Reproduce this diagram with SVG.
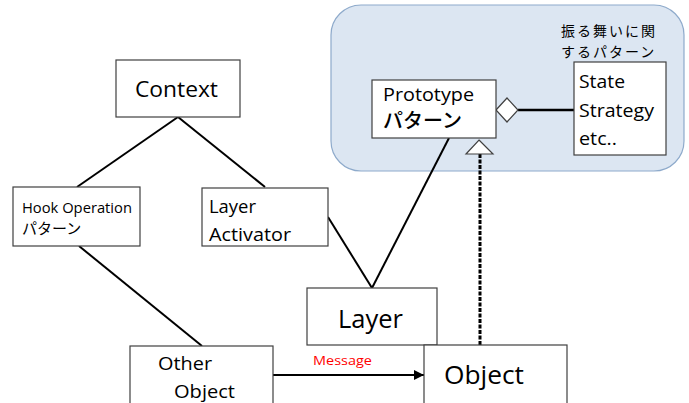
<svg xmlns="http://www.w3.org/2000/svg" width="689" height="403" viewBox="0 0 689 403">
  <style>
    .box { fill: #ffffff; stroke: #404040; stroke-width: 1.2; }
    .lbl { font-family: "Open Sans", "Noto Sans CJK JP", sans-serif; fill: #000000; }
    .jp { font-family: "Noto Sans CJK JP", sans-serif; fill: #000000; }
    .link { stroke: #000000; stroke-width: 2; fill: none; }
  </style>
  <defs>
    <marker id="arrow" viewBox="0 0 10 10" refX="10" refY="5" markerWidth="5" markerHeight="5" orient="auto" markerUnits="strokeWidth">
      <path d="M0,0 L10,5 L0,10 z" fill="#000000"/>
    </marker>
  </defs>

  <!-- Behavioural pattern group -->
  <g id="behaviour-group">
    <rect x="331" y="5" width="353" height="166" rx="30" ry="30" fill="#dce6f2" stroke="#8eaacb" stroke-width="1.2"/>
    <text class="jp" x="561" y="35.5" font-size="14" letter-spacing="2">振る舞いに関</text>
    <text class="jp" x="561" y="56.5" font-size="14" letter-spacing="2">するパターン</text>
  </g>

  <!-- Connectors -->
  <g id="connectors">
    <line class="link" x1="178" y1="117" x2="77" y2="187"/>
    <line class="link" x1="178" y1="117" x2="265" y2="187"/>
    <line class="link" x1="79" y1="246" x2="202" y2="346"/>
    <line class="link" x1="328" y1="217" x2="372" y2="288"/>
    <line class="link" x1="449" y1="138" x2="372" y2="288"/>
    <line x1="518" y1="110" x2="574" y2="110" stroke="#000000" stroke-width="2.5"/>
    <polygon points="496,110 507,98 518,110 507,122" fill="#ffffff" stroke="#404040" stroke-width="1.2"/>
    <line x1="480" y1="154" x2="480" y2="345" stroke="#000000" stroke-width="3" stroke-dasharray="4,1.5"/>
    <polygon points="479,140 493,154 466,154" fill="#ffffff" stroke="#404040" stroke-width="1.2"/>
    <line class="link" x1="273" y1="375" x2="424" y2="375" marker-end="url(#arrow)"/>
    <text x="313" y="365" font-family="Open Sans, sans-serif" font-size="13.5" fill="#ff0000" textLength="59" lengthAdjust="spacingAndGlyphs">Message</text>
  </g>

  <g id="context">
    <rect class="box" x="116" y="60" width="124" height="57" stroke="#7f7f7f"/>
    <text class="lbl" x="135" y="97" font-size="22" textLength="83" lengthAdjust="spacingAndGlyphs">Context</text>
  </g>

  <g id="hook-operation">
    <rect class="box" x="13" y="187" width="127" height="59"/>
    <text class="lbl" x="22" y="213" font-size="14" textLength="110" lengthAdjust="spacingAndGlyphs">Hook Operation</text>
    <text class="jp" x="22" y="234" font-size="15">パターン</text>
  </g>

  <g id="layer-activator">
    <rect class="box" x="202" y="188" width="126" height="58"/>
    <text class="lbl" x="209" y="213" font-size="18.5" textLength="47" lengthAdjust="spacingAndGlyphs">Layer</text>
    <text class="lbl" x="209" y="241" font-size="18.5" textLength="82" lengthAdjust="spacingAndGlyphs">Activator</text>
  </g>

  <g id="prototype">
    <rect class="box" x="372" y="80" width="124" height="58"/>
    <text class="lbl" x="383" y="101" font-size="17.5" textLength="91" lengthAdjust="spacingAndGlyphs">Prototype</text>
    <text class="jp" x="383" y="128" font-size="20" font-weight="500">パターン</text>
  </g>

  <g id="state-strategy">
    <rect class="box" x="574" y="62" width="92" height="93"/>
    <text class="lbl" x="579" y="88" font-size="18" textLength="46" lengthAdjust="spacingAndGlyphs">State</text>
    <text class="lbl" x="579" y="117" font-size="18" textLength="75" lengthAdjust="spacingAndGlyphs">Strategy</text>
    <text class="lbl" x="579" y="145" font-size="18" textLength="38" lengthAdjust="spacingAndGlyphs">etc..</text>
  </g>

  <g id="layer">
    <rect class="box" x="307" y="288" width="130" height="57"/>
    <text class="lbl" x="338" y="328" font-size="25" textLength="65" lengthAdjust="spacingAndGlyphs">Layer</text>
  </g>

  <g id="other-object">
    <rect class="box" x="130" y="346" width="143" height="70"/>
    <text class="lbl" x="158" y="370" font-size="19" textLength="54" lengthAdjust="spacingAndGlyphs">Other</text>
    <text class="lbl" x="174" y="398" font-size="19" textLength="61" lengthAdjust="spacingAndGlyphs">Object</text>
  </g>

  <g id="object">
    <rect class="box" x="424" y="345" width="143" height="70"/>
    <text class="lbl" x="444" y="384" font-size="26" textLength="80" lengthAdjust="spacingAndGlyphs">Object</text>
  </g>
</svg>
